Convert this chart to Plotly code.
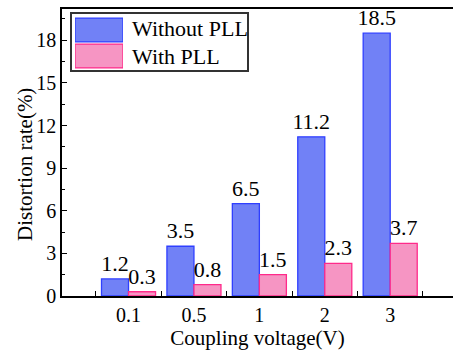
import plotly.graph_objects as go

# Data
categories = ["0.1", "0.5", "1", "2", "3"]
without_pll = [1.2, 3.5, 6.5, 11.2, 18.5]
with_pll = [0.3, 0.8, 1.5, 2.3, 3.7]
series_names = ["Without PLL", "With PLL"]
y_ticks = [0, 3, 6, 9, 12, 15, 18]

W, H = 453, 350
ML, MR, MT, MB = 62, 0, 9, 54
PW, PH = W - ML - MR, H - MT - MB

FONT = "Liberation Serif"
BLUE_EDGE, BLUE_BG, BLUE_FG = "#2f3fff", "#3a4ff0", "#c4cbff"
PINK_EDGE, PINK_BG, PINK_FG = "#ff2a8a", "#f06aaa", "#ffd6ea"


def px_x(p):
    return (p - ML) / PW


def px_y(p):
    return (H - MB - p) / PH


def bar_marker(edge, bg, fg):
    return dict(
        color=bg,
        line=dict(color=edge, width=1.3),
        pattern=dict(shape=".", fgcolor=fg, bgcolor=bg,
                     size=2, solidity=0.45, fillmode="replace"),
    )


fig = go.Figure()

styles = [
    (BLUE_EDGE, BLUE_BG, BLUE_FG),
    (PINK_EDGE, PINK_BG, PINK_FG),
]

for name, vals, st in zip(series_names, [without_pll, with_pll], styles):
    fig.add_trace(go.Bar(
        x=categories, y=vals, name=name,
        text=[f"{v:g}" for v in vals], textposition="outside",
        constraintext="none", cliponaxis=False,
        textfont=dict(family=FONT, size=22, color="black"),
        marker=bar_marker(*st),
        showlegend=False,
    ))

# Legend swatches drawn as patterned bars on a small auxiliary axis pair
for i, (name, st) in enumerate(zip(series_names, styles)):
    fig.add_trace(go.Bar(
        x=[1], y=[i], base=[0], orientation="h", width=0.92,
        xaxis="x2", yaxis="y2", showlegend=False, hoverinfo="skip",
        marker=bar_marker(*st),
    ))
    fig.add_annotation(
        x=px_x(130), y=px_y(29 + 28 * i), xref="paper", yref="paper",
        text=name, showarrow=False, xanchor="left", yanchor="middle",
        font=dict(family=FONT, size=22, color="black"),
    )

fig.add_shape(type="rect", xref="paper", yref="paper",
              x0=px_x(71), x1=px_x(248), y0=px_y(71), y1=px_y(13),
              line=dict(color="#333333", width=2), fillcolor="rgba(0,0,0,0)")

# Y axis title placed as a rotated annotation
fig.add_annotation(
    x=px_x(25), y=px_y(165), xref="paper", yref="paper",
    text="Distortion rate(%)", textangle=-90, showarrow=False,
    xanchor="center", yanchor="middle",
    font=dict(family=FONT, size=21, color="black"),
)

fig.update_layout(
    width=W, height=H,
    margin=dict(l=ML, r=MR, t=MT, b=MB),
    paper_bgcolor="white", plot_bgcolor="white",
    barmode="group", bargap=0.174, bargroupgap=0,
    font=dict(family=FONT, size=20, color="black"),
    xaxis=dict(
        type="category", range=[-1.017, 4.96],
        tickson="boundaries", ticks="inside", ticklen=5, tickwidth=1.2,
        tickcolor="black", showline=True, linecolor="black", linewidth=1.5,
        mirror=True, showgrid=False, zeroline=False,
        tickfont=dict(family=FONT, size=20),
        title=dict(text="Coupling voltage(V)", standoff=0,
                   font=dict(family=FONT, size=21)),
    ),
    yaxis=dict(
        range=[0, 20.2], tickvals=y_ticks,
        ticks="inside", ticklen=5, tickwidth=1.2, tickcolor="black",
        minor=dict(dtick=1.5, ticks="inside", ticklen=3, tickcolor="black", tickwidth=1),
        showline=True, linecolor="black", linewidth=1.5,
        showgrid=False, zeroline=False,
        tickfont=dict(family=FONT, size=20),
    ),
    xaxis2=dict(domain=[px_x(75), px_x(123)], range=[0, 1], visible=False,
                anchor="y2", fixedrange=True),
    yaxis2=dict(domain=[px_y(69), px_y(17)], range=[1.5, -0.5], visible=False,
                anchor="x2", fixedrange=True),
)

fig.write_html("out.html")
